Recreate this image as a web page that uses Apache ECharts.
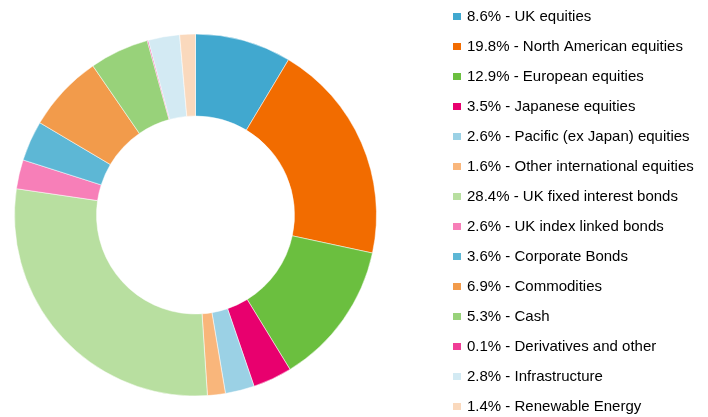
<!DOCTYPE html>
<html>
<head>
<meta charset="utf-8">
<script src="https://cdn.jsdelivr.net/npm/echarts@6/dist/echarts.min.js"></script>
<style>
  html, body { margin: 0; padding: 0; background: #fff; }
  #chart { width: 708px; height: 417px; }
</style>
</head>
<body>
<div id="chart"></div>
<script>
// 数据
var categories = ['UK equities', 'North American equities', 'European equities', 'Japanese equities',
  'Pacific (ex Japan) equities', 'Other international equities', 'UK fixed interest bonds',
  'UK index linked bonds', 'Corporate Bonds', 'Commodities', 'Cash', 'Derivatives and other',
  'Infrastructure', 'Renewable Energy'];
var values = [8.6, 19.8, 12.9, 3.5, 2.6, 1.6, 28.4, 2.6, 3.6, 6.9, 5.3, 0.1, 2.8, 1.4];
var colors = ['#41a8cf', '#f26c00', '#6bbf3f', '#e8006e', '#9bd1e5', '#f9b67b', '#b8dfa0',
  '#f77fb8', '#5db7d5', '#f29b4b', '#98d27a', '#f03d96', '#d3eaf3', '#fad9bd'];

(function() {
  var myChart = echarts.init(document.getElementById('chart'));
  var names = categories.map(function(c, i) { return values[i].toFixed(1) + '% - ' + c; });
  var option = {
    color: colors,
    animation: false,
    legend: {
      orient: 'vertical',
      left: 451,
      top: 9,
      height: 410,
      padding: 0,
      itemWidth: 10,
      itemHeight: 9,
      itemGap: 15,
      icon: 'rect',
      selectedMode: false,
      data: names,
      textStyle: {
        fontFamily: 'Liberation Sans, Arial, sans-serif',
        fontSize: 15,
        color: '#000'
      }
    },
    series: [
      {
        type: 'pie',
        center: [195.5, 215],
        radius: [99, 181],
        startAngle: 90,
        clockwise: true,
        silent: true,
        label: { show: false },
        labelLine: { show: false },
        itemStyle: { borderColor: '#fff', borderWidth: 0.5 },
        data: names.map(function(n, i) { return { name: n, value: values[i] }; })
      }
    ]
  };
  myChart.setOption(option);
})();
</script>
</body>
</html>
